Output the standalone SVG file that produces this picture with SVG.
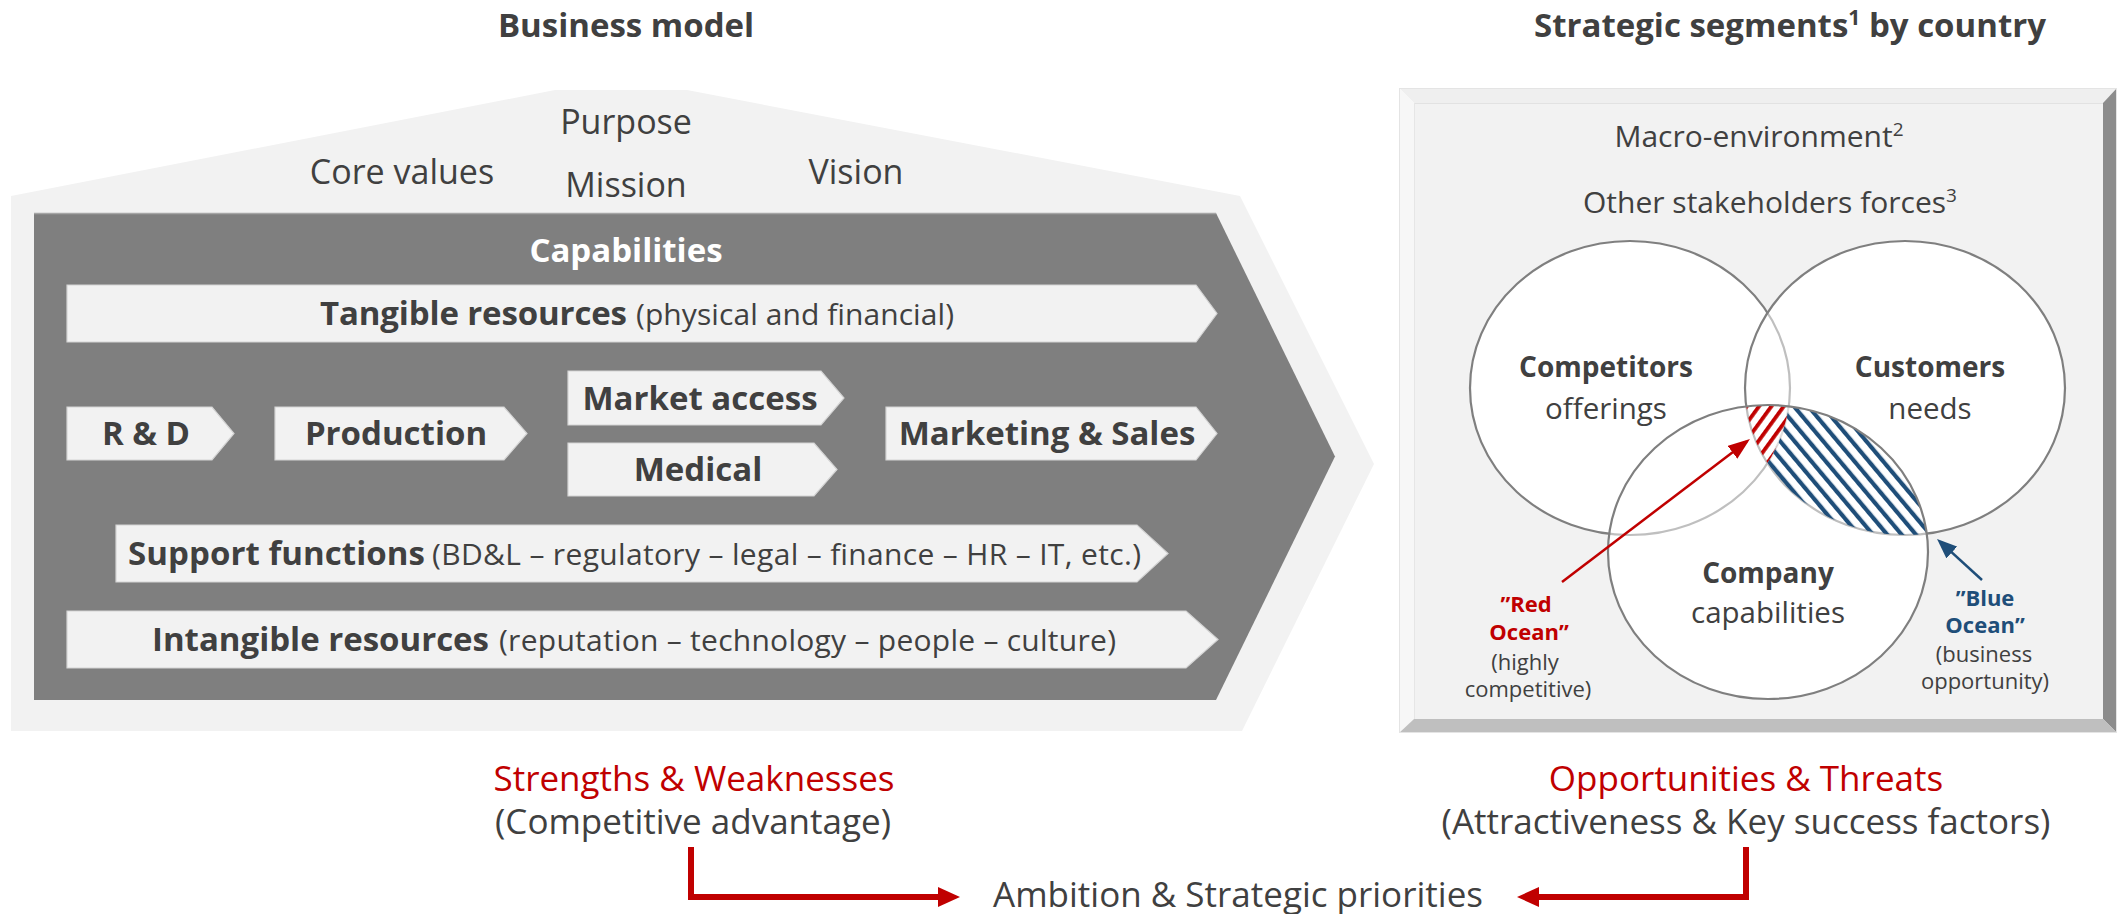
<svg xmlns="http://www.w3.org/2000/svg" width="2123" height="914" viewBox="0 0 2123 914">
<style>
text{font-family:'Open Sans','Liberation Sans',sans-serif;fill:#404040}
.hdr{font-size:33px;font-weight:bold;text-anchor:middle}
.top{font-size:34px;text-anchor:middle}
.lbl{font-size:33px;font-weight:bold;text-anchor:middle}
.lb{font-size:33px;font-weight:bold}
.lr{font-size:30px}
.box{fill:#F2F2F2;stroke:#D4D4D4;stroke-width:1.2}
.env{font-size:30px;text-anchor:middle}
.vb{font-size:28px;font-weight:bold;text-anchor:middle}
.vr{font-size:29.5px;text-anchor:middle}
.ob{font-size:22px;font-weight:bold;text-anchor:middle}
.or{font-size:22px;text-anchor:middle}
.red{fill:#C00000}
.blue{fill:#1F4E79}
.bot{font-size:35px;text-anchor:middle}
.circ{fill:none;stroke:#7F7F7F;stroke-width:2.2}
.conn{fill:none;stroke:#C00000;stroke-width:6}
</style>
<defs>
<pattern id="blueHatch" patternUnits="userSpaceOnUse" width="11" height="11" patternTransform="rotate(-40)">
<rect x="0" y="0" width="4.2" height="11" fill="#1F4E79"/>
</pattern>
<pattern id="redHatch" patternUnits="userSpaceOnUse" width="10" height="10" patternTransform="rotate(36)">
<rect x="0" y="0" width="3.8" height="10" fill="#C00000"/>
</pattern>
<clipPath id="clipA"><ellipse cx="1630" cy="388" rx="160" ry="147"/></clipPath>
<clipPath id="clipB"><ellipse cx="1905" cy="388" rx="160" ry="147"/></clipPath>
<clipPath id="clipC"><ellipse cx="1768" cy="552" rx="160" ry="147"/></clipPath>
<mask id="maskBnotA" maskUnits="userSpaceOnUse" x="0" y="0" width="2123" height="914">
<ellipse cx="1905" cy="388" rx="160" ry="147" fill="#fff"/>
<ellipse cx="1630" cy="388" rx="160" ry="147" fill="#000"/>
</mask>
<marker id="headBig" markerUnits="userSpaceOnUse" markerWidth="22" markerHeight="20" refX="1" refY="10" orient="auto">
<path d="M0,0 L22,10 L0,20 Z" fill="#C00000"/>
</marker>
<marker id="headRed" markerUnits="userSpaceOnUse" markerWidth="22" markerHeight="16" refX="18" refY="8" orient="auto">
<path d="M0,0 L22,8 L0,16 Z" fill="#C00000"/>
</marker>
<marker id="headBlue" markerUnits="userSpaceOnUse" markerWidth="20" markerHeight="16" refX="16" refY="8" orient="auto">
<path d="M0,0 L20,8 L0,16 Z" fill="#1F4E79"/>
</marker>
</defs>

<rect x="0" y="0" width="2123" height="914" fill="#fff"/>

<!-- Headers -->
<g id="header-business-model"><text class="hdr" x="626" y="37">Business model</text></g>
<g id="header-strategic"><text class="hdr" x="1790" y="37">Strategic segments<tspan font-size="21" dy="-12">1</tspan><tspan dy="12"> by country</tspan></text></g>

<!-- Business model house -->
<g id="house">
<polygon points="11,196 555,90 687,90 1240,196 1374,464 1242,731 11,731" fill="#F2F2F2"/>
<text class="top" x="626" y="134">Purpose</text>
<text class="top" x="402" y="184">Core values</text>
<text class="top" x="626" y="197">Mission</text>
<text class="top" x="856" y="184">Vision</text>
</g>

<g id="capabilities">
<polygon points="34,213 1216,213 1335,456.5 1216,700 34,700" fill="#7F7F7F"/>
<line x1="34" y1="213.5" x2="1216" y2="213.5" stroke="#A6A6A6" stroke-width="1.5"/>
<text class="lbl" x="626" y="262" style="fill:#fff">Capabilities</text>
</g>

<g id="tangible">
<polygon class="box" points="67,285 1196,285 1217,313.5 1196,342 67,342"/>
<text class="lb" x="320" y="325" textLength="307">Tangible resources</text>
<text class="lr" x="636" y="325" textLength="318">(physical and financial)</text>
</g>

<g id="rd">
<polygon class="box" points="67,407 212,407 234,433.5 212,460 67,460"/>
<text class="lbl" x="146" y="445">R &amp; D</text>
</g>

<g id="production">
<polygon class="box" points="275,407 504,407 527,433.5 504,460 275,460"/>
<text class="lbl" x="396" y="445">Production</text>
</g>

<g id="market-access">
<polygon class="box" points="568,371 821,371 844,398 821,425 568,425"/>
<text class="lbl" x="700" y="410">Market access</text>
</g>

<g id="medical">
<polygon class="box" points="568,443 814,443 837,469.5 814,496 568,496"/>
<text class="lbl" x="698" y="481">Medical</text>
</g>

<g id="marketing-sales">
<polygon class="box" points="886,407 1196,407 1217,433.5 1196,460 886,460"/>
<text class="lbl" x="1047" y="445">Marketing &amp; Sales</text>
</g>

<g id="support">
<polygon class="box" points="116,525 1137,525 1168,553.5 1137,582 116,582"/>
<text class="lb" x="128" y="565" textLength="297">Support functions</text>
<text class="lr" x="432" y="565" textLength="709">(BD&amp;L – regulatory – legal – finance – HR – IT, etc.)</text>
</g>

<g id="intangible">
<polygon class="box" points="67,611 1186,611 1218,639.5 1186,668 67,668"/>
<text class="lb" x="152" y="651" textLength="337">Intangible resources</text>
<text class="lr" x="499" y="651" textLength="617">(reputation – technology – people – culture)</text>
</g>

<!-- Strategic segments box -->
<g id="segments-frame">
<polygon points="1399,88 2117,88 2103,103 1414,103" fill="#EFEFEF"/>
<polygon points="1399,88 1414,103 1414,719 1399,733" fill="#F7F7F7"/>
<polygon points="2117,88 2117,733 2103,719 2103,103" fill="#8C8C8C"/>
<polygon points="1399,733 2117,733 2103,719 1414,719" fill="#BFBFBF"/>
<rect x="1414" y="103" width="689" height="616" fill="#F2F2F2"/>
<rect x="1399.5" y="88.5" width="717" height="644" fill="none" stroke="#E4E4E4" stroke-width="1"/>
<line x1="1414" y1="103.5" x2="2103" y2="103.5" stroke="#E2E2E2" stroke-width="1"/>
<line x1="1414.5" y1="103" x2="1414.5" y2="719" stroke="#E6E6E6" stroke-width="1"/>
<text class="env" x="1759" y="147">Macro-environment<tspan font-size="19" dy="-11">2</tspan></text>
<text class="env" x="1770" y="213">Other stakeholders forces<tspan font-size="19" dy="-11">3</tspan></text>
</g>

<g id="venn">
<ellipse cx="1630" cy="388" rx="160" ry="147" fill="#fff"/>
<ellipse cx="1905" cy="388" rx="160" ry="147" fill="#fff"/>
<ellipse cx="1768" cy="552" rx="160" ry="147" fill="#fff"/>
<ellipse class="circ" cx="1630" cy="388" rx="160" ry="147"/>
<ellipse cx="1905" cy="388" rx="160" ry="147" fill="#fff" fill-opacity="0.5"/>
<ellipse class="circ" cx="1905" cy="388" rx="160" ry="147"/>
<ellipse cx="1768" cy="552" rx="160" ry="147" fill="#fff" fill-opacity="0.5"/>
<g id="red-ocean-area" clip-path="url(#clipC)"><g clip-path="url(#clipB)"><rect x="1700" y="380" width="140" height="120" fill="url(#redHatch)" clip-path="url(#clipA)"/></g></g>
<g id="blue-ocean-area" clip-path="url(#clipC)"><rect x="1700" y="380" width="260" height="180" fill="url(#blueHatch)" mask="url(#maskBnotA)"/></g>
<ellipse class="circ" cx="1768" cy="552" rx="160" ry="147"/>
</g>

<g id="competitors">
<text class="vb" x="1606" y="377">Competitors</text>
<text class="vr" x="1606" y="419">offerings</text>
</g>
<g id="customers">
<text class="vb" x="1930" y="377">Customers</text>
<text class="vr" x="1930" y="419">needs</text>
</g>
<g id="company">
<text class="vb" x="1768" y="583">Company</text>
<text class="vr" x="1768" y="623">capabilities</text>
</g>

<g id="red-ocean-label">
<text class="ob red" x="1526" y="612">”Red</text>
<text class="ob red" x="1529" y="640">Ocean”</text>
<text class="or" x="1525" y="670">(highly</text>
<text class="or" x="1528" y="697">competitive)</text>
</g>
<g id="blue-ocean-label">
<text class="ob blue" x="1985" y="606">”Blue</text>
<text class="ob blue" x="1985" y="633">Ocean”</text>
<text class="or" x="1984" y="662">(business</text>
<text class="or" x="1985" y="689">opportunity)</text>
</g>

<!-- Bottom labels -->
<g id="strengths">
<text class="bot red" x="694" y="791">Strengths &amp; Weaknesses</text>
<text class="bot" x="693" y="834">(Competitive advantage)</text>
</g>
<g id="opportunities">
<text class="bot red" x="1746" y="791">Opportunities &amp; Threats</text>
<text class="bot" x="1746" y="834">(Attractiveness &amp; Key success factors)</text>
</g>
<g id="ambition">
<text class="bot" x="1238" y="907">Ambition &amp; Strategic priorities</text>
</g>

<!-- Connectors -->
<g id="connectors">
<line x1="1562" y1="582" x2="1746.8" y2="441.4" stroke="#C00000" stroke-width="2.5" marker-end="url(#headRed)"/>
<line x1="1982" y1="580" x2="1940" y2="541.7" stroke="#1F4E79" stroke-width="2.5" marker-end="url(#headBlue)"/>
<path class="conn" d="M691,847 V897 H939" marker-end="url(#headBig)"/>
<path class="conn" d="M1746,847 V897 H1538" marker-end="url(#headBig)"/>
</g>
</svg>
